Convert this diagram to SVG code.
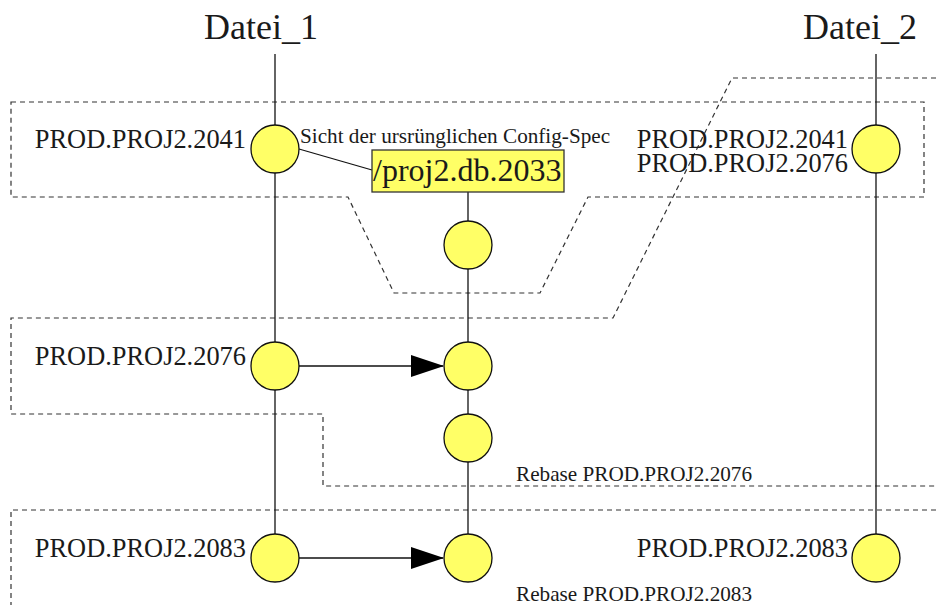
<svg xmlns="http://www.w3.org/2000/svg" width="938" height="605" viewBox="0 0 938 605">
<style>
.dash{fill:none;stroke:#333;stroke-width:1.2;stroke-dasharray:5,4}
.ln{fill:none;stroke:#111;stroke-width:1.3}
.nd{fill:#ffff66;stroke:#111;stroke-width:1.3}
text{font-family:"Liberation Serif","Times New Roman",serif;fill:#1a1a1a}
.big{font-size:36px}
.lbl{font-size:26.4px}
.sm{font-size:21.2px}
</style>
<defs>
<marker id="ah" markerWidth="33" markerHeight="22" refX="32" refY="11" orient="auto" markerUnits="userSpaceOnUse">
<path d="M0,0 L33,11 L0,22 Z" fill="#000"/>
</marker>
</defs>
<g id="regions">
<path class="dash" d="M11,102 H924 V197 H588 L540,293 H394 L348,197 H11 Z"/>
<path class="dash" d="M945,78 H732 L613,318 H11 V414 H323 V486 H945"/>
<path class="dash" d="M945,510 H11 V610"/>
</g>
<g id="connectors">
<line class="ln" x1="275" y1="54" x2="275" y2="534"/>
<line class="ln" x1="876" y1="54" x2="876" y2="534"/>
<line class="ln" x1="468" y1="192" x2="468" y2="534"/>
<line class="ln" x1="299" y1="149" x2="372" y2="170"/>
<line class="ln" x1="299" y1="366" x2="443" y2="366" marker-end="url(#ah)"/>
<line class="ln" x1="299" y1="558" x2="443" y2="558" marker-end="url(#ah)"/>
</g>
<g id="title1"><text class="big" x="204" y="39">Datei_1</text></g>
<g id="title2"><text class="big" x="803" y="39">Datei_2</text></g>
<g id="n2041"><circle class="nd" cx="275" cy="149" r="24"/><text class="lbl" x="246" y="148" text-anchor="end">PROD.PROJ2.2041</text></g>
<g id="spec"><text class="sm" x="300" y="143">Sicht der ursrünglichen Config-Spec</text></g>
<g id="db2033"><rect x="372" y="150" width="192" height="42" fill="#ffff66" stroke="#333" stroke-width="1.3"/><text x="373" y="181" font-size="32">/proj2.db.2033</text></g>
<g id="m1"><circle class="nd" cx="468" cy="245" r="24"/></g>
<g id="r2041"><circle class="nd" cx="876" cy="149" r="24"/><text class="lbl" x="848" y="148" text-anchor="end">PROD.PROJ2.2041</text><text class="lbl" x="848" y="172" text-anchor="end">PROD.PROJ2.2076</text></g>
<g id="n2076"><circle class="nd" cx="275" cy="366" r="24"/><text class="lbl" x="246" y="365" text-anchor="end">PROD.PROJ2.2076</text></g>
<g id="m2"><circle class="nd" cx="468" cy="366" r="24"/></g>
<g id="m3"><circle class="nd" cx="468" cy="438" r="24"/></g>
<g id="rb2076"><text class="sm" x="516" y="481">Rebase PROD.PROJ2.2076</text></g>
<g id="n2083"><circle class="nd" cx="275" cy="558" r="24"/><text class="lbl" x="246" y="557" text-anchor="end">PROD.PROJ2.2083</text></g>
<g id="m4"><circle class="nd" cx="468" cy="558" r="24"/></g>
<g id="r2083"><circle class="nd" cx="876" cy="558" r="24"/><text class="lbl" x="848" y="557" text-anchor="end">PROD.PROJ2.2083</text></g>
<g id="rb2083"><text class="sm" x="516" y="601">Rebase PROD.PROJ2.2083</text></g>
</svg>
